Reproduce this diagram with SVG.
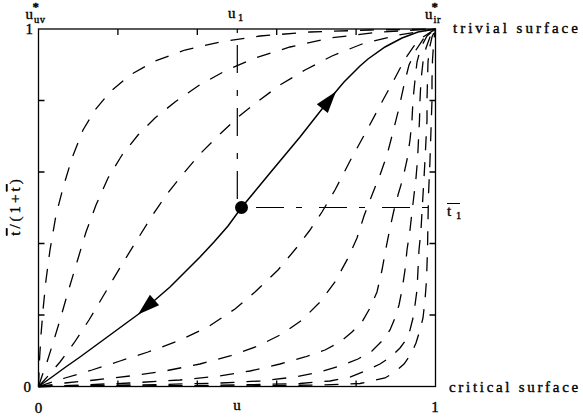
<svg xmlns="http://www.w3.org/2000/svg" width="583" height="419" viewBox="0 0 583 419">
<style>
text{font-family:"Liberation Serif","Times New Roman",serif;font-size:15px;fill:#000;stroke:#000;stroke-width:0.35}
.s{font-size:10.5px;letter-spacing:0.5px}
.st{font-size:13px;font-weight:bold}
.w{letter-spacing:3px}
.d{fill:none;stroke:#000;stroke-width:1.3;stroke-dasharray:14 12}
.sol{fill:none;stroke:#000;stroke-width:1.5}
.dd{fill:none;stroke:#000;stroke-width:1.2;stroke-dasharray:28 12 6 17}
.ax{fill:none;stroke:#000;stroke-width:1.3}
</style>
<rect width="583" height="419" fill="#fff"/>
<g id="axes">
<rect class="ax" x="38.5" y="29" width="397" height="357.5"/>
<path class="ax" d="M117.9 386.5v-6M197.3 386.5v-6M276.7 386.5v-6M356.1 386.5v-6M117.9 29v6M197.3 29v6M276.7 29v6M356.1 29v6M38.5 315h6M38.5 243.5h6M38.5 172h6M38.5 100.5h6M435.5 315h-6M435.5 243.5h-6M435.5 172h-6M435.5 100.5h-6"/>
</g>
<g id="connectors">
<path class="d" d="M38.5 386.5L39.5 360L41 335L43 310L46 280L50 250L56 215L63 188L72 158L83 130L95 110L110 92L130 75L155 61L185 50L220 42L260 36L310 32L370 30L435.5 29"/>
<path class="d" d="M38.5 386.5L42 376L47 362L53 343L60 320L68 292L77 262L86 232L96 205L108 178L122 155L138 135L155 118L175 102L198 86L225 71L255 58L290 47L330 38L380 32L435.5 29"/>
<path class="d" d="M38.5 386.5L48 376L60 362L74 343L89 320L105 293L121 266L137 240L152 216L167 194L183 174L200 154L218 136L237 118L257 102L280 85L305 70L332 56L362 44L398 35L435.5 29"/>
<path class="d" d="M38.5 386.5L65 378L92 370L120 361L148 352L178 341L208 327L235 309L255 292L278 270L298 246L310 230L322 212L335 190L350 161L367 130L383 100L395 78L405 59L414 46L423 37L435.5 29"/>
<path class="d" d="M38.5 386.5L65 383L95 380L130 376L165 371L200 364L230 356L258 346L282 334L302 320L320 302L335 282L348 258L357 238L364 216L372 195L380 175L387 155L393 132L399 108L404 85L409 65L416 50L424 38L435.5 29"/>
<path class="d" d="M38.5 386.5L80 385L130 383L180 380L220 376L250 371L280 364L305 357L325 350L340 342L352 332L362 322L370 308L377 292L382 270L386 248L390 228L394 210L398 195L403 178L407 160L410 140L412 120L413 100L415 80L417 62L421 47L427 36L435.5 29"/>
<path class="d" d="M38.5 386.5L100 385.5L160 384.5L220 383L260 381L295 377L320 372L340 366L358 359L372 351L382 341L390 330L395 318L399 305L402 290L405 270L407 250L410 230L412 212L414 195L416 178L417.5 160L418.5 140L419.5 120L420 100L421 80L423 62L426 48L430 37L435.5 29"/>
<path class="d" d="M38.5 386.5L120 386L200 385.5L260 384.5L300 383.5L330 381L350 377L365 371L380 364L392 356L400 348L406 340L410 330L413 318L415 305L417 290L418 270L419 250L421 230L422 212L423 195L424 178L425 160L426 140L427 120L427 100L427.5 80L428 62L429.5 48L432 37L435.5 29"/>
<path class="d" d="M38.5 386.5L150 386.3L250 385.8L320 385L360 383.5L385 378L395 372L404 364L411 354L416 343L420 330L423 318L425 300L426.5 280L427.5 250L428 220L428.5 195L430 160L431 130L432 100L432 80L432.5 60L433.5 45L434.5 35L435.5 29"/>
<path class="dd" d="M237.3 199V29"/>
<path class="dd" d="M256 207.5H435.5"/>
<path class="sol" d="M38.5 386.5L52 377L65 367.5L80 357L95 346L110 335L125 324L140 313L155 300L170 287L185 272L200 257L214 242L228 226L241.5 207.5L256 190L270 173L285 155L300 137L311 123L322 109L329 100L336 91.5L344 82L352 74L360 66L368 59L385 47L402 38L418 32L435.5 29"/>
<polygon points="336,91.5 327.8,113.1 316.8,104.3"/>
<polygon points="138,314.5 159.1,305.25 149.9,294.75"/>
<circle cx="241.5" cy="207.5" r="6.5"/>
</g>
<g id="labels">
<text x="25.5" y="19">u</text><text class="st" x="32.5" y="11">*</text><text class="s" x="34" y="23">uv</text>
<text x="228" y="18">u</text><text class="s" x="238" y="21">1</text>
<text x="425" y="19">u</text><text class="st" x="431.5" y="11">*</text><text class="s" x="433.5" y="23">ir</text>
<text class="w" x="453" y="33">trivial surface</text>
<text x="449" y="392" letter-spacing="2.7">critical surface</text>
<text x="33" y="34" text-anchor="end">1</text>
<text x="31" y="392" text-anchor="end">0</text>
<text x="38.5" y="413" text-anchor="middle">0</text>
<text x="237" y="410" text-anchor="middle">u</text>
<text x="435" y="412" text-anchor="middle">1</text>
<text x="447" y="216">t</text><text class="s" x="456" y="219">1</text>
<line x1="447" y1="203.5" x2="460" y2="203.5" stroke="#000" stroke-width="1"/>
<text class="w" transform="translate(20,206) rotate(-90)" text-anchor="middle"><tspan style="text-decoration:overline">t</tspan>/(1+<tspan style="text-decoration:overline">t</tspan>)</text>
</g>
</svg>
